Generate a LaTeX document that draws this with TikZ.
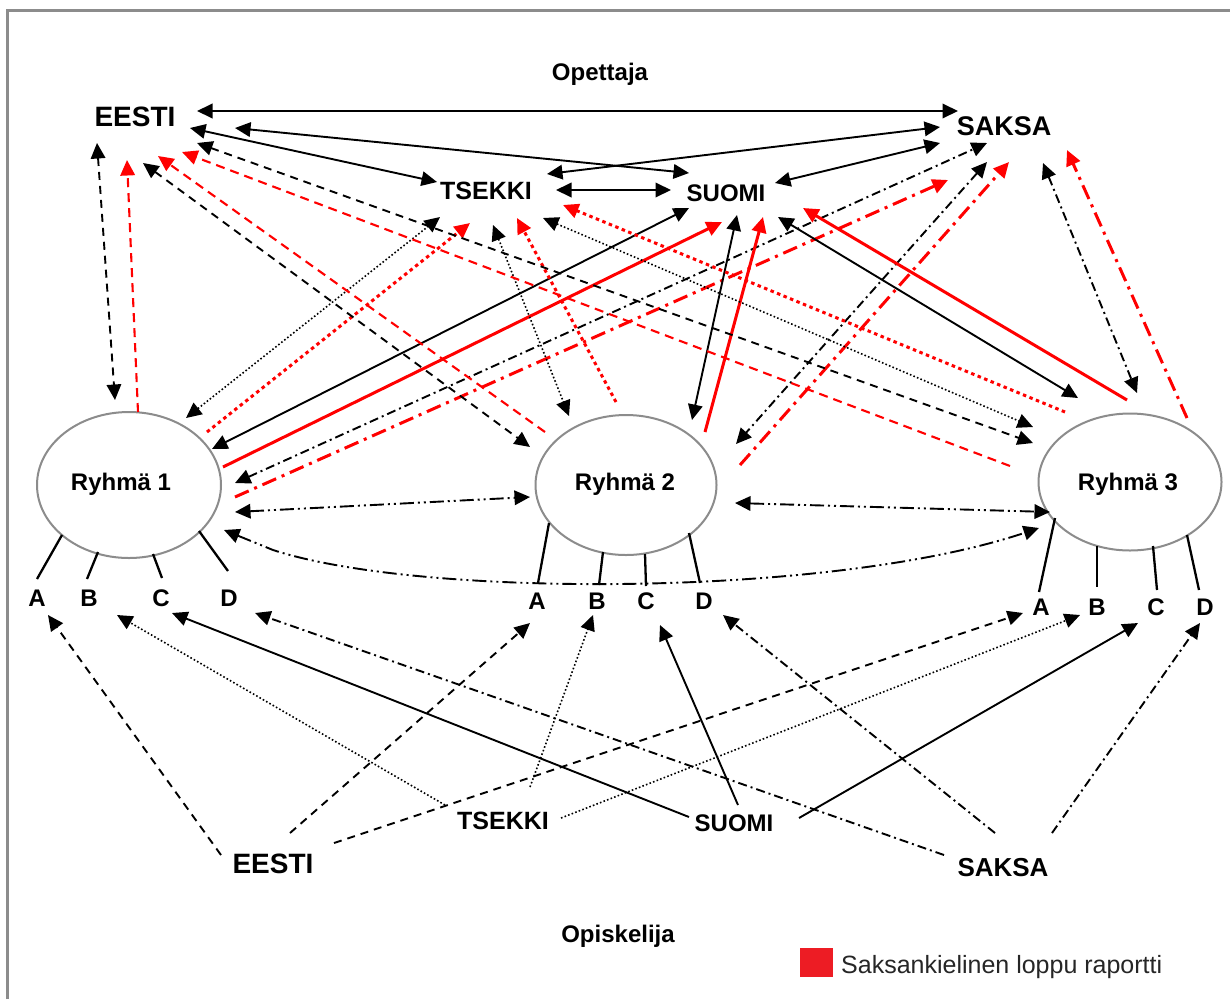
\documentclass[tikz,border=0pt]{standalone}
\usepackage{fontspec}
\setmainfont{Liberation Sans}
\usetikzlibrary{arrows.meta,calc,shapes.geometric}
\tikzset{
  tri/.tip={Triangle[length=15.5pt,width=14.5pt]},
  both/.style={tri-tri},
  one/.style={-tri},
  txt/.style={anchor=base,inner sep=0pt,text=black},
  ell/.style={ellipse,draw=black!45,line width=2pt,fill=white,inner sep=0pt},
  kdash/.style={black,line width=1.9pt,dash pattern=on 8pt off 6pt},
  rdash/.style={red,line width=2.1pt,dash pattern=on 9pt off 6pt},
  kdot/.style={black,line width=1.6pt,dash pattern=on 1.6pt off 2.2pt},
  rdot/.style={red,line width=3pt,dash pattern=on 3.5pt off 3.5pt},
  ksolid/.style={black,line width=1.9pt},
  rsolid/.style={red,line width=3pt},
  kdd/.style={black,line width=1.9pt,dash pattern=on 9pt off 4pt on 2pt off 4pt},
  rdd/.style={red,line width=3pt,dash pattern=on 15pt off 6pt on 3pt off 6pt},
  kddd/.style={black,line width=1.9pt,dash pattern=on 14pt off 4pt on 2pt off 4pt on 2pt off 4pt},
  leg/.style={black,line width=2.3pt},
  frame/.style={draw=black!45,line width=3pt,line join=miter}
}
\begin{document}
\begin{tikzpicture}[x=1pt,y=-1pt]
\useasboundingbox (0,0) rectangle (1230,999);
\fill[white] (0,0) rectangle (1230,999);
\draw[frame] (7,999) -- (7,10) -- (1230,10);

% headings
\node[txt,font=\bfseries\fontsize{24}{26}\selectfont] (opet) at (600,80) {Opettaja};
\node[txt,font=\bfseries\fontsize{24}{26}\selectfont] (opis) at (618,942) {Opiskelija};

% teacher languages
\node[txt,font=\bfseries\fontsize{28}{30}\selectfont] (eT) at (135,126) {EESTI};
\node[txt,font=\bfseries\fontsize{27}{29}\selectfont] (sT) at (1004,135) {SAKSA};
\node[txt,font=\bfseries\fontsize{25}{27}\selectfont] (tT) at (486,199) {TSEKKI};
\node[txt,font=\bfseries\fontsize{24}{26}\selectfont] (uT) at (726,201) {SUOMI};

% student languages
\node[txt,font=\bfseries\fontsize{28}{30}\selectfont] (eB) at (273,873) {EESTI};
\node[txt,font=\bfseries\fontsize{25}{27}\selectfont] (tB) at (503,829) {TSEKKI};
\node[txt,font=\bfseries\fontsize{24}{26}\selectfont] (uB) at (734,831) {SUOMI};
\node[txt,font=\bfseries\fontsize{26}{28}\selectfont] (sB) at (1003,876) {SAKSA};

% groups
\node[ell,minimum width=184pt,minimum height=146pt] (r1) at (129,485) {};
\node[ell,minimum width=181pt,minimum height=140pt] (r2) at (626,485) {};
\node[ell,minimum width=183pt,minimum height=137pt] (r3) at (1130,482) {};
\node[txt,font=\bfseries\fontsize{24}{26}\selectfont] (r1t) at (121,490) {Ryhmä 1};
\node[txt,font=\bfseries\fontsize{24}{26}\selectfont] (r2t) at (625,490) {Ryhmä 2};
\node[txt,font=\bfseries\fontsize{24}{26}\selectfont] (r3t) at (1128,490) {Ryhmä 3};

% letters
\foreach \n/\l/\x/\y in {A1/A/37/606,B1/B/89/606,C1/C/161/606,D1/D/229/606,
  A2/A/537/609,B2/B/597/609,C2/C/646/609,D2/D/704/609,
  A3/A/1041/615,B3/B/1097/615,C3/C/1156/615,D3/D/1205/615}
  \node[txt,font=\bfseries\fontsize{24}{26}\selectfont] (\n) at (\x,\y) {\l};

% legs
\draw[leg] ($(r1)+(-67,50)$) -- ($(A1.base)+(0,-27)$);
\draw[leg] ($(r1)+(-31,67)$) -- ($(B1.base)+(-2,-27)$);
\draw[leg] ($(r1)+(24,69)$) -- ($(C1.base)+(1,-28)$);
\draw[leg] ($(r1)+(70,46)$) -- ($(D1.base)+(-1,-35)$);
\draw[leg] ($(r2)+(-77,38)$) -- ($(A2.base)+(1,-26)$);
\draw[leg] ($(r2)+(-23,67)$) -- ($(B2.base)+(2,-24)$);
\draw[leg] ($(r2)+(19,69)$) -- ($(C2.base)+(0,-23)$);
\draw[leg] ($(r2)+(63,48)$) -- ($(D2.base)+(-4,-26)$);
\draw[leg] ($(r3)+(-75,36)$) -- ($(A3.base)+(-2,-23)$);
\draw[leg] ($(r3)+(-33,64)$) -- ($(B3.base)+(0,-28)$);
\draw[leg] ($(r3)+(23,64)$) -- ($(C3.base)+(1,-25)$);
\draw[leg] ($(r3)+(57,53)$) -- ($(D3.base)+(-6,-25)$);

% teacher language links
\draw[ksolid,both] ($(eT.base)+(62,-15)$) -- ($(sT.base)+(-46,-24)$);
\draw[ksolid,both] ($(eT.base)+(100,2)$) -- ($(uT.base)+(-37,-28)$);
\draw[ksolid,both] ($(eT.base)+(55,2)$) -- ($(tT.base)+(-49,-17)$);
\draw[ksolid,both] ($(tT.base)+(61,-25)$) -- ($(sT.base)+(-64,-8)$);
\draw[ksolid,both] ($(uT.base)+(49,-18)$) -- ($(sT.base)+(-64,8)$);
\draw[ksolid,both] ($(tT.base)+(70,-9)$) -- ($(uT.base)+(-55,-11)$);

% Ryhma 1
\draw[kdash,both] ($(eT.base)+(-38,17)$) -- ($(r1)+(-14,-85)$);
\draw[rdash,one] ($(r1)+(9,-73)$) -- ($(eT.base)+(-8,34)$);
\draw[kdot,both] ($(r1)+(57,-67)$) -- ($(tT.base)+(-46,18)$);
\draw[rdot,one] ($(r1)+(78,-53)$) -- ($(tT.base)+(-16,24)$);
\draw[ksolid,both] ($(r1)+(83,-36)$) -- ($(uT.base)+(-37,7)$);
\draw[rsolid,one] ($(r1)+(94,-18)$) -- ($(uT.base)+(-4,21)$);
\draw[kdd,both] ($(r1)+(106,-2)$) -- ($(sT.base)+(-17,8)$);
\draw[rdd,one] ($(r1)+(106,12)$) -- ($(sT.base)+(-56,45)$);

% Ryhma 2
\draw[kdash,both] ($(eT.base)+(8,37)$) -- ($(r2)+(-96,-38)$);
\draw[rdash,one] ($(r2)+(-81,-53)$) -- ($(eT.base)+(23,30)$);
\draw[kdot,both] ($(tT.base)+(7,26)$) -- ($(r2)+(-57,-69)$);
\draw[rdot,one] ($(r2)+(-10,-83)$) -- ($(tT.base)+(31,19)$);
\draw[ksolid,both] ($(uT.base)+(11,14)$) -- ($(r2)+(66,-65)$);
\draw[rsolid,one] ($(r2)+(79,-53)$) -- ($(uT.base)+(37,16)$);
\draw[kdd,both] ($(sT.base)+(-17,27)$) -- ($(r2)+(110,-41)$);
\draw[rdd,one] ($(r2)+(114,-20)$) -- ($(sT.base)+(5,27)$);

% Ryhma 3
\draw[kdash,both] ($(eT.base)+(62,17)$) -- ($(r3)+(-97,-39)$);
\draw[rdash,one] ($(r3)+(-120,-16)$) -- ($(eT.base)+(47,26)$);
\draw[kdot,both] ($(tT.base)+(57,19)$) -- ($(r3)+(-97,-55)$);
\draw[rdot,one] ($(r3)+(-65,-70)$) -- ($(tT.base)+(77,6)$);
\draw[ksolid,both] ($(uT.base)+(52,16)$) -- ($(r3)+(-52,-84)$);
\draw[rsolid,one] ($(r3)+(-3,-82)$) -- ($(uT.base)+(77,7)$);
\draw[kdd,both] ($(sT.base)+(39,28)$) -- ($(r3)+(7,-89)$);
\draw[rdd,one] ($(r3)+(57,-64)$) -- ($(sT.base)+(63,15)$);

% group to group
\draw[kddd,both] ($(r1)+(106,27)$) -- ($(r2)+(-96,12)$);
\draw[kddd,both] ($(r2)+(109,18)$) -- ($(r3)+(-80,30)$);
\draw[kddd,both] ($(r1)+(95,45)$) -- ($(r1)+(144,65)$) .. controls (420,598) and (830,598) .. ($(r3)+(-91,46)$);

% student links
\draw[kdash,one] ($(eB.base)+(-52,-18)$) -- ($(A1.base)+(11,9)$);
\draw[kdash,one] ($(eB.base)+(17,-40)$) -- ($(A2.base)+(-7,14)$);
\draw[kdash,one] ($(eB.base)+(61,-30)$) -- ($(A3.base)+(-18,-2)$);
\draw[kdot,one] ($(tB.base)+(-58,-24)$) -- ($(B1.base)+(28,9)$);
\draw[kdot,one] ($(tB.base)+(27,-42)$) -- ($(B2.base)+(-4,6)$);
\draw[kdot,one] ($(tB.base)+(58,-11)$) -- ($(B3.base)+(-17,0)$);
\draw[ksolid,one] ($(uB.base)+(-45,-14)$) -- ($(C1.base)+(11,7)$);
\draw[ksolid,one] ($(uB.base)+(4,-26)$) -- ($(C2.base)+(14,16)$);
\draw[ksolid,one] ($(uB.base)+(65,-13)$) -- ($(C3.base)+(-18,8)$);
\draw[kdd,one] ($(sB.base)+(-59,-21)$) -- ($(D1.base)+(26,7)$);
\draw[kdd,one] ($(sB.base)+(-8,-43)$) -- ($(D2.base)+(19,6)$);
\draw[kdd,one] ($(sB.base)+(49,-43)$) -- ($(D3.base)+(-5,8)$);

% legend
\node[fill={rgb,255:red,237;green,28;blue,36},minimum width=33pt,minimum height=29pt,inner sep=0pt] (legbox) at (816.5,962.5) {};
\node[anchor=base west,inner sep=0pt,text=black!85,font=\fontsize{25}{27}\selectfont] (legtxt) at (841,973) {Saksankielinen loppu raportti};
\end{tikzpicture}
\end{document}
